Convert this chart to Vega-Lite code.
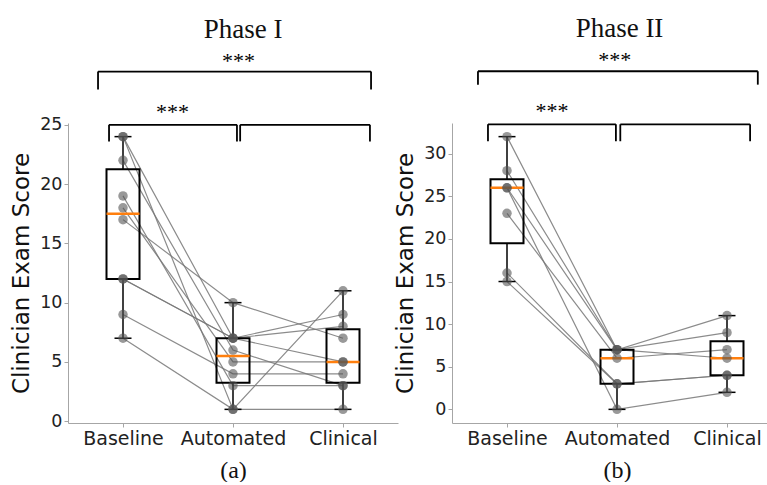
{
  "$schema": "https://vega.github.io/schema/vega-lite/v6.json",
  "padding": {"left": 10, "top": 15, "right": 0, "bottom": 0},
  "spacing": -4,
  "config": {
    "view": {"stroke": null},
    "axis": {
      "grid": false,
      "domainColor": "#a6a6a6",
      "tickColor": "#a6a6a6",
      "tickSize": 4,
      "labelFont": "DejaVu Sans",
      "labelFontSize": 17.5,
      "labelColor": "#222222",
      "titleFont": "DejaVu Sans",
      "titleFontWeight": "normal",
      "titleColor": "#111111",
      "labelPadding": 2
    },
    "title": {"font": "Liberation Serif", "fontSize": 27, "fontWeight": "normal", "color": "#111111"}
  },
  "datasets": {
    "scores": [
      {"phase": "I", "subject": "S1", "cond": "Baseline", "score": 7},
      {"phase": "I", "subject": "S1", "cond": "Automated", "score": 1},
      {"phase": "I", "subject": "S1", "cond": "Clinical", "score": 1},
      {"phase": "I", "subject": "S2", "cond": "Baseline", "score": 24},
      {"phase": "I", "subject": "S2", "cond": "Automated", "score": 1},
      {"phase": "I", "subject": "S2", "cond": "Clinical", "score": 11},
      {"phase": "I", "subject": "S3", "cond": "Baseline", "score": 9},
      {"phase": "I", "subject": "S3", "cond": "Automated", "score": 4},
      {"phase": "I", "subject": "S3", "cond": "Clinical", "score": 4},
      {"phase": "I", "subject": "S4", "cond": "Baseline", "score": 12},
      {"phase": "I", "subject": "S4", "cond": "Automated", "score": 7},
      {"phase": "I", "subject": "S4", "cond": "Clinical", "score": 9},
      {"phase": "I", "subject": "S5", "cond": "Baseline", "score": 12},
      {"phase": "I", "subject": "S5", "cond": "Automated", "score": 7},
      {"phase": "I", "subject": "S5", "cond": "Clinical", "score": 8},
      {"phase": "I", "subject": "S6", "cond": "Baseline", "score": 17},
      {"phase": "I", "subject": "S6", "cond": "Automated", "score": 10},
      {"phase": "I", "subject": "S6", "cond": "Clinical", "score": 7},
      {"phase": "I", "subject": "S7", "cond": "Baseline", "score": 18},
      {"phase": "I", "subject": "S7", "cond": "Automated", "score": 5},
      {"phase": "I", "subject": "S7", "cond": "Clinical", "score": 5},
      {"phase": "I", "subject": "S8", "cond": "Baseline", "score": 19},
      {"phase": "I", "subject": "S8", "cond": "Automated", "score": 3},
      {"phase": "I", "subject": "S8", "cond": "Clinical", "score": 3},
      {"phase": "I", "subject": "S9", "cond": "Baseline", "score": 22},
      {"phase": "I", "subject": "S9", "cond": "Automated", "score": 6},
      {"phase": "I", "subject": "S9", "cond": "Clinical", "score": 3},
      {"phase": "I", "subject": "S10", "cond": "Baseline", "score": 24},
      {"phase": "I", "subject": "S10", "cond": "Automated", "score": 7},
      {"phase": "I", "subject": "S10", "cond": "Clinical", "score": 5},
      {"phase": "II", "subject": "T1", "cond": "Baseline", "score": 32},
      {"phase": "II", "subject": "T1", "cond": "Automated", "score": 7},
      {"phase": "II", "subject": "T1", "cond": "Clinical", "score": 11},
      {"phase": "II", "subject": "T2", "cond": "Baseline", "score": 28},
      {"phase": "II", "subject": "T2", "cond": "Automated", "score": 7},
      {"phase": "II", "subject": "T2", "cond": "Clinical", "score": 9},
      {"phase": "II", "subject": "T3", "cond": "Baseline", "score": 26},
      {"phase": "II", "subject": "T3", "cond": "Automated", "score": 7},
      {"phase": "II", "subject": "T3", "cond": "Clinical", "score": 6},
      {"phase": "II", "subject": "T4", "cond": "Baseline", "score": 26},
      {"phase": "II", "subject": "T4", "cond": "Automated", "score": 0},
      {"phase": "II", "subject": "T4", "cond": "Clinical", "score": 2},
      {"phase": "II", "subject": "T5", "cond": "Baseline", "score": 23},
      {"phase": "II", "subject": "T5", "cond": "Automated", "score": 6},
      {"phase": "II", "subject": "T5", "cond": "Clinical", "score": 7},
      {"phase": "II", "subject": "T6", "cond": "Baseline", "score": 16},
      {"phase": "II", "subject": "T6", "cond": "Automated", "score": 3},
      {"phase": "II", "subject": "T6", "cond": "Clinical", "score": 4},
      {"phase": "II", "subject": "T7", "cond": "Baseline", "score": 15},
      {"phase": "II", "subject": "T7", "cond": "Automated", "score": 3},
      {"phase": "II", "subject": "T7", "cond": "Clinical", "score": 4}
    ],
    "brackets": [
      {"phase": "I", "x": 0.773, "x2": 0.773, "score": 27.97, "score2": 29.49},
      {"phase": "I", "x": 0.773, "x2": 3.255, "score": 29.49, "score2": 29.49},
      {"phase": "I", "x": 3.255, "x2": 3.255, "score": 27.97, "score2": 29.49},
      {"phase": "I", "x": 0.873, "x2": 0.873, "score": 23.6, "score2": 25.0},
      {"phase": "I", "x": 0.873, "x2": 2.036, "score": 25.0, "score2": 25.0},
      {"phase": "I", "x": 2.036, "x2": 2.036, "score": 23.6, "score2": 25.0},
      {"phase": "I", "x": 2.065, "x2": 2.065, "score": 23.6, "score2": 25.0},
      {"phase": "I", "x": 2.065, "x2": 3.245, "score": 25.0, "score2": 25.0},
      {"phase": "I", "x": 3.245, "x2": 3.245, "score": 23.6, "score2": 25.0},
      {"phase": "II", "x": 0.736, "x2": 0.736, "score": 38.1, "score2": 39.67},
      {"phase": "II", "x": 0.736, "x2": 3.28, "score": 39.67, "score2": 39.67},
      {"phase": "II", "x": 3.28, "x2": 3.28, "score": 38.1, "score2": 39.67},
      {"phase": "II", "x": 0.827, "x2": 0.827, "score": 31.46, "score2": 33.45},
      {"phase": "II", "x": 0.827, "x2": 1.99, "score": 33.45, "score2": 33.45},
      {"phase": "II", "x": 1.99, "x2": 1.99, "score": 31.46, "score2": 33.45},
      {"phase": "II", "x": 2.03, "x2": 2.03, "score": 31.46, "score2": 33.45},
      {"phase": "II", "x": 2.03, "x2": 3.21, "score": 33.45, "score2": 33.45},
      {"phase": "II", "x": 3.21, "x2": 3.21, "score": 31.46, "score2": 33.45}
    ],
    "stars": [
      {"phase": "I", "x": 2.05, "score": 29.8, "label": "***"},
      {"phase": "I", "x": 1.45, "score": 25.5, "label": "***"},
      {"phase": "II", "x": 1.98, "score": 40.14, "label": "***"},
      {"phase": "II", "x": 1.41, "score": 34.15, "label": "***"}
    ]
  },
  "hconcat": [
    {
      "width": 330,
      "height": 300,
      "title": {"text": "Phase I", "dx": 10, "offset": 6},
      "layer": [
        {
          "data": {"name": "scores"},
          "transform": [{"filter": "datum.phase == 'I'"}],
          "encoding": {
            "x": {
              "field": "cond", "type": "nominal",
              "scale": {"type": "point", "domain": ["Baseline", "Automated", "Clinical"], "padding": 0.5},
              "axis": {"title": "(a)", "titleFont": "Liberation Serif", "titleFontSize": 24, "labelAngle": 0, "labelFontSize": 19, "titlePadding": 10}
            },
            "y": {
              "field": "score", "type": "quantitative",
              "scale": {"domain": [-0.15, 25.15], "nice": false, "zero": false},
              "axis": {"title": "Clinician Exam Score", "titleFontSize": 23, "values": [0, 5, 10, 15, 20, 25], "titlePadding": 6}
            }
          },
          "layer": [
            {"mark": {"type": "line", "color": "#777777", "strokeWidth": 1.2, "opacity": 0.85}, "encoding": {"detail": {"field": "subject"}, "order": {"value": null}}},
            {"mark": {"type": "boxplot", "extent": "min-max", "size": 33,
              "box": {"fill": "transparent", "stroke": "black", "strokeWidth": 2},
              "median": {"color": "#ff7f0e", "thickness": 2.6, "opacity": 1},
              "rule": {"color": "black", "strokeWidth": 1.5},
              "ticks": {"color": "black", "size": 17, "thickness": 1.5, "opacity": 1}}},
            {"mark": {"type": "circle", "size": 90, "color": "#555555", "opacity": 0.6}}
          ]
        },
        {
          "data": {"name": "brackets"},
          "transform": [{"filter": "datum.phase == 'I'"}],
          "mark": {"type": "rule", "color": "black", "strokeWidth": 1.8},
          "encoding": {
            "x": {"field": "x", "type": "quantitative", "scale": {"domain": [0.5, 3.5], "nice": false, "zero": false}, "axis": null},
            "x2": {"field": "x2"},
            "y": {"field": "score", "type": "quantitative", "scale": {"domain": [-0.15, 25.15], "nice": false, "zero": false}},
            "y2": {"field": "score2"}
          }
        },
        {
          "data": {"name": "stars"},
          "transform": [{"filter": "datum.phase == 'I'"}],
          "mark": {"type": "text", "font": "Liberation Serif", "fontSize": 22, "color": "black", "baseline": "alphabetic", "align": "center"},
          "encoding": {
            "x": {"field": "x", "type": "quantitative", "scale": {"domain": [0.5, 3.5], "nice": false, "zero": false}, "axis": null},
            "y": {"field": "score", "type": "quantitative", "scale": {"domain": [-0.15, 25.15], "nice": false, "zero": false}},
            "text": {"field": "label"}
          }
        }
      ],
      "resolve": {"scale": {"x": "independent"}}
    },
    {
      "width": 315,
      "height": 300,
      "title": {"text": "Phase II", "dx": 10, "offset": 6},
      "layer": [
        {
          "data": {"name": "scores"},
          "transform": [{"filter": "datum.phase == 'II'"}],
          "encoding": {
            "x": {
              "field": "cond", "type": "nominal",
              "scale": {"type": "point", "domain": ["Baseline", "Automated", "Clinical"], "range": [55, 275], "padding": 0},
              "axis": {"title": "(b)", "titleFont": "Liberation Serif", "titleFontSize": 24, "labelAngle": 0, "labelFontSize": 19, "titlePadding": 10, "domain": false}
            },
            "y": {
              "field": "score", "type": "quantitative",
              "scale": {"domain": [-1.6, 33.6], "nice": false, "zero": false},
              "axis": {"title": "Clinician Exam Score", "titleFontSize": 23, "values": [0, 5, 10, 15, 20, 25, 30], "titlePadding": 6}
            }
          },
          "layer": [
            {"mark": {"type": "line", "color": "#777777", "strokeWidth": 1.2, "opacity": 0.85}, "encoding": {"detail": {"field": "subject"}, "order": {"value": null}}},
            {"mark": {"type": "boxplot", "extent": "min-max", "size": 33,
              "box": {"fill": "transparent", "stroke": "black", "strokeWidth": 2},
              "median": {"color": "#ff7f0e", "thickness": 2.6, "opacity": 1},
              "rule": {"color": "black", "strokeWidth": 1.5},
              "ticks": {"color": "black", "size": 17, "thickness": 1.5, "opacity": 1}}},
            {"mark": {"type": "circle", "size": 90, "color": "#555555", "opacity": 0.6}}
          ]
        },
        {
          "data": {"name": "brackets"},
          "transform": [{"filter": "datum.phase == 'II'"}],
          "mark": {"type": "rule", "color": "black", "strokeWidth": 1.8},
          "encoding": {
            "x": {"field": "x", "type": "quantitative", "scale": {"domain": [0.5, 3.3636], "nice": false, "zero": false},
              "axis": {"orient": "bottom", "labels": false, "ticks": false, "title": null, "domain": true}},
            "x2": {"field": "x2"},
            "y": {"field": "score", "type": "quantitative", "scale": {"domain": [-1.6, 33.6], "nice": false, "zero": false}},
            "y2": {"field": "score2"}
          }
        },
        {
          "data": {"name": "stars"},
          "transform": [{"filter": "datum.phase == 'II'"}],
          "mark": {"type": "text", "font": "Liberation Serif", "fontSize": 22, "color": "black", "baseline": "alphabetic", "align": "center"},
          "encoding": {
            "x": {"field": "x", "type": "quantitative", "scale": {"domain": [0.5, 3.3636], "nice": false, "zero": false}, "axis": null},
            "y": {"field": "score", "type": "quantitative", "scale": {"domain": [-1.6, 33.6], "nice": false, "zero": false}},
            "text": {"field": "label"}
          }
        }
      ],
      "resolve": {"scale": {"x": "independent"}}
    }
  ]
}
